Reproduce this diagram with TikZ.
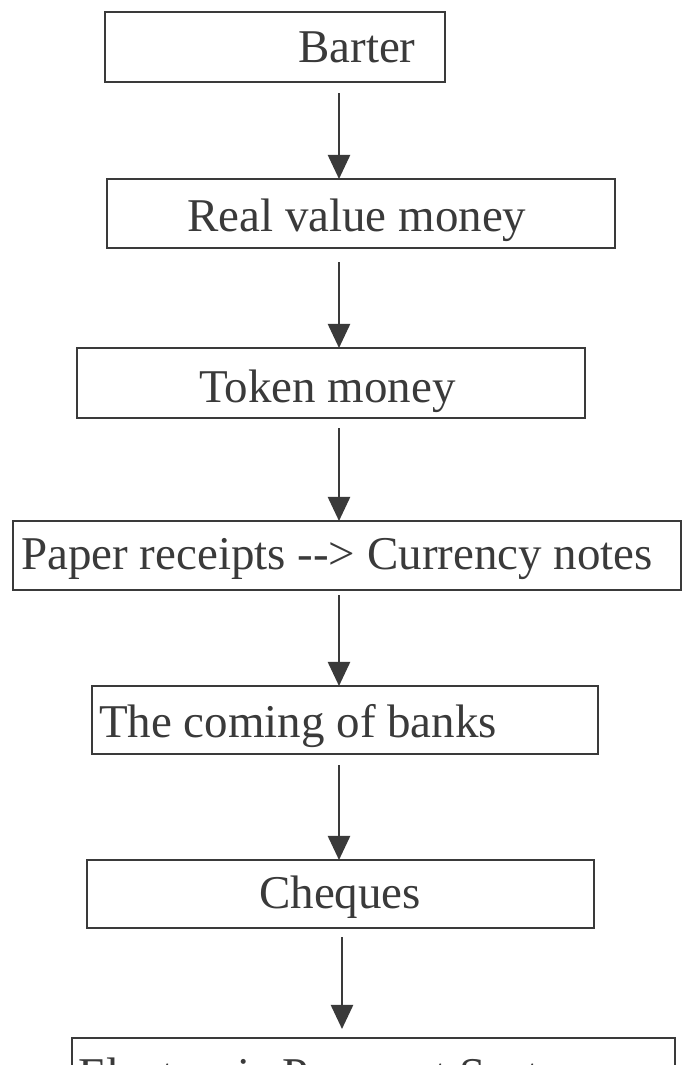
\documentclass[tikz,border=0pt]{standalone}
\usepackage{fontspec}
\setmainfont{Liberation Serif}
\usepackage{tikz}
\usetikzlibrary{positioning, arrows.meta}
\definecolor{boxgray}{RGB}{58, 58, 58}

\begin{document}
\begin{tikzpicture}[x = 0.025cm, y = -0.025cm, line width = 1.7pt, draw = boxgray,
    box/.style={draw = boxgray, rectangle, inner sep = 0pt, outer sep = 0pt},
    caption/.style={anchor = base west, inner sep = 0pt, text = boxgray, font = \fontsize{33.4pt}{38pt}\selectfont},
    flow/.style={-{Triangle[width = 0.55cm, length = 0.6cm]}, draw = boxgray}]
  \path [use as bounding box, fill = white] (0,0) rectangle (682,1065);
  \clip (0,0) rectangle (682,1065);
  \coordinate (spine) at (339,0);
  \coordinate (spine2) at (342,0);

  % boxes
  \node [box, minimum width = 8.5cm, minimum height = 1.75cm] (barter) at (275,47) {};
  \node [box, minimum width = 12.7cm, minimum height = 1.725cm] (real) at (361,213.5) {};
  \node [box, minimum width = 12.7cm, minimum height = 1.75cm] (token) at (331,383) {};
  \node [box, minimum width = 16.7cm, minimum height = 1.725cm] (paper) at (347,555.5) {};
  \node [box, minimum width = 12.65cm, minimum height = 1.7cm] (banks) at (345,720) {};
  \node [box, minimum width = 12.675cm, minimum height = 1.7cm] (cheques) at (340.5,894) {};
  \node [box, minimum width = 15.075cm, minimum height = 1.75cm] (epay) at (373.5,1073) {};

  % texts
  \node [caption] (barter-t) at (297,62) {Barter};
  \node [caption] (real-t) at (186,231) {Real value money};
  \node [caption] (token-t) at (198,402) {Token money};
  \node [caption] (paper-t) at (20,569) {Paper receipts -{}-> Currency notes};
  \node [caption] (banks-t) at (98,737) {The coming of banks};
  \node [caption] (cheques-t) at (258,908) {Cheques};
  \node [caption] (epay-t) at (77,1090) {Electronic Payment Systems};

  % edges
  \draw [flow, shorten < = 0.275cm] (barter.south -| spine) to (real.north -| spine);
  \draw [flow, shorten < = 0.35cm] (real.south -| spine) to (token.north -| spine);
  \draw [flow, shorten < = 0.25cm] (token.south -| spine) to (paper.north -| spine);
  \draw [flow, shorten < = 0.125cm] (paper.south -| spine) to (banks.north -| spine);
  \draw [flow, shorten < = 0.275cm] (banks.south -| spine) to (cheques.north -| spine);
  \draw [flow, shorten < = 0.225cm, shorten > = 0.225cm] (cheques.south -| spine2) to (epay.north -| spine2);
\end{tikzpicture}
\end{document}
